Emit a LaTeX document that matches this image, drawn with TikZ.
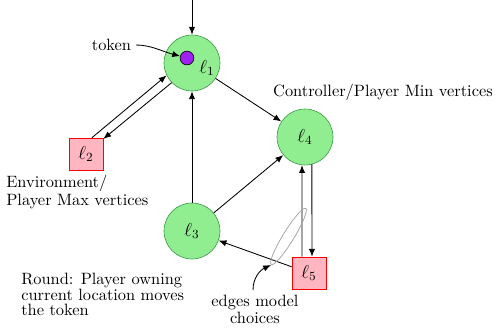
\documentclass[tikz,border=0pt]{standalone}
\usetikzlibrary{arrows.meta,calc}
\definecolor{vgreen}{HTML}{90EE90}
\definecolor{vgreenline}{HTML}{3E9A4A}
\definecolor{vpink}{HTML}{FFB6C1}
\definecolor{tokenpurple}{HTML}{A020F0}
\begin{document}
\begin{tikzpicture}[x=0.0225cm,y=-0.0225cm,
  >={Latex[length=5pt,width=4pt]},
  edge/.style={->,line width=0.55pt},
  minv/.style={circle,draw=vgreenline,fill=vgreen,minimum size=1.26cm,inner sep=0pt,font=\large},
  maxv/.style={rectangle,draw=red,fill=vpink,minimum width=0.765cm,minimum height=0.72cm,inner sep=0pt,font=\large},
  note/.style={inner sep=0pt,font=\fontsize{10.5}{12}\selectfont}
]
\useasboundingbox (0,0) rectangle (495,327);

% vertices
\node[minv] (l1) at (192,63) {};
\node[inner sep=0pt,font=\large] (l1lab) at (207,68) {$\ell_1$};
\node[minv] (l4) at (305,137) {$\ell_4$};
\node[minv] (l3) at (192,231) {$\ell_3$};
\node[maxv] (l2) at (86,154) {$\ell_2$};
\node[maxv] (l5) at (309,273) {$\ell_5$};

% token
\node[circle,draw=black,fill=tokenpurple,minimum size=0.31cm,inner sep=0pt] (tok) at (187,58) {};

% initial arrow
\coordinate (init) at (192,0);
\draw[edge] (init) -- (l1);

% edges
\draw[edge] (l2.70) -- (l1.206);
\draw[edge] (l1.224) -- (l2.41);
\draw[edge] (l3) -- (l1);
\draw[edge] (l1) -- (l4);
\draw[edge] (l3) -- (l4);
\draw[edge] (l5) -- (l3);
\draw[edge] ([xshift=-0.1575cm]l5.north) -- (l4.264);
\draw[edge] (l4.284) -- ([xshift=0.0675cm]l5.north);

% choice highlight
\draw[gray!70,line width=0.5pt,rotate around={58.4:(288.5,236.5)}] (288.5,236.5) ellipse (33 and 5.5);
\coordinate (choicetip) at (271,265);

% annotations
\node[note] (toktext) at (111.5,45) {token};
\draw[edge,shorten <=3pt] (toktext.east) to[out=0,in=165] (tok);

\node[note] (ctrl) at (383,92) {Controller/Player Min vertices};
\node[note,align=left,anchor=north west,font=\fontsize{10.5}{11.5}\selectfont] (env) at (6,175) {Environment/\\Player Max vertices};
\node[note,align=left,anchor=north west,font=\fontsize{10.5}{10}\selectfont] (round) at (21,273) {Round: Player owning\\current location moves\\the token};
\node[note,align=center,anchor=north,font=\fontsize{10.5}{11}\selectfont] (choices) at (255,295) {edges model\\choices};
\path (choices.north) ++(-2,-5) coordinate (chstart);
\draw[edge] (chstart) to[out=90,in=205] (choicetip);
\end{tikzpicture}
\end{document}
